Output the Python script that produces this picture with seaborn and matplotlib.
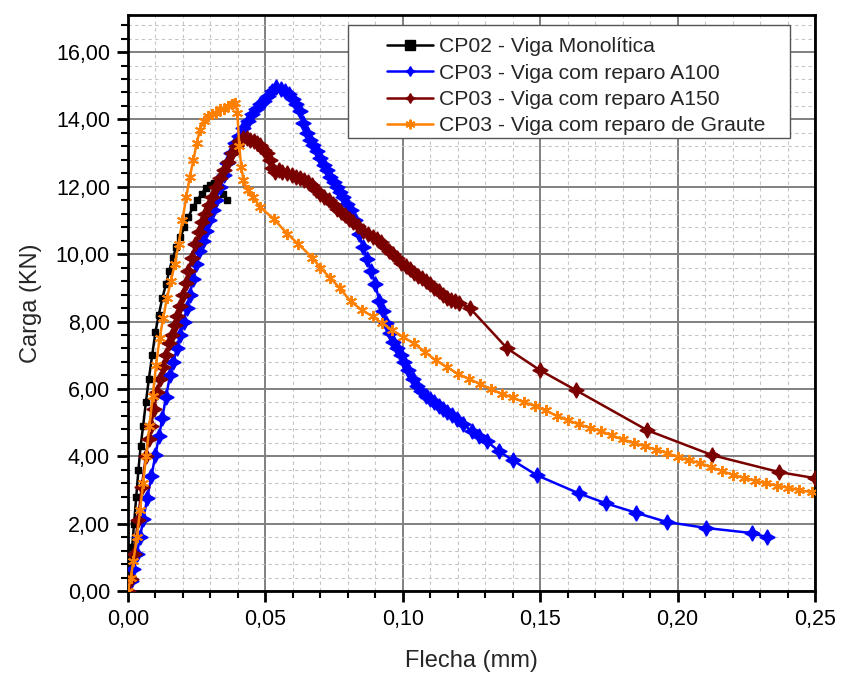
import matplotlib
matplotlib.use("Agg")
import matplotlib.pyplot as plt
import seaborn as sns
import pandas as pd
from matplotlib.patches import Rectangle
from matplotlib.ticker import MultipleLocator, FuncFormatter

# ---------------- data ----------------
labels = ["CP02 - Viga Monolítica",
          "CP03 - Viga com reparo A100",
          "CP03 - Viga com reparo A150",
          "CP03 - Viga com reparo de Graute"]

cp02_x = [0.0, 0.0008, 0.0015, 0.0022, 0.0030, 0.0038, 0.0046, 0.0055, 0.0065, 0.0076,
          0.0088, 0.0100, 0.0112, 0.0125, 0.0138, 0.0150, 0.0163, 0.0176, 0.0190, 0.0205,
          0.0220, 0.0236, 0.0252, 0.0268, 0.0283, 0.0298, 0.0312, 0.0328, 0.0345, 0.0360]
cp02_y = [0.0, 0.6, 1.3, 2.0, 2.8, 3.6, 4.3, 4.9, 5.6, 6.3,
          7.0, 7.7, 8.2, 8.7, 9.1, 9.5, 9.9, 10.2, 10.5, 10.8,
          11.1, 11.4, 11.6, 11.8, 11.95, 12.05, 12.1, 12.0, 11.8, 11.6]

a100_x = [0.0, 0.0010, 0.0020, 0.0032, 0.0044, 0.0056, 0.0070, 0.0085, 0.0100, 0.0113,
          0.0125, 0.0138, 0.0153, 0.0165, 0.0178, 0.0190, 0.0202, 0.0214, 0.0225, 0.0237,
          0.0249, 0.0260, 0.0272, 0.0284, 0.0296, 0.0308, 0.0320, 0.0335, 0.0348, 0.0362,
          0.0375, 0.0390, 0.0405, 0.0420, 0.0435, 0.0450, 0.0465, 0.0480, 0.0495, 0.0510,
          0.0525, 0.0540, 0.0555, 0.0570, 0.0585, 0.0600, 0.0612, 0.0625, 0.0637, 0.0650,
          0.0662, 0.0675, 0.0687, 0.0700, 0.0712, 0.0724, 0.0736, 0.0748, 0.0760, 0.0772,
          0.0784, 0.0796, 0.0810, 0.0825, 0.0840, 0.0855, 0.0870, 0.0885, 0.0900, 0.0915,
          0.0927, 0.0940, 0.0952, 0.0964, 0.0978, 0.0992, 0.1005, 0.1020, 0.1036, 0.1052,
          0.1068, 0.1085, 0.1100, 0.1115, 0.1130, 0.1145, 0.1160, 0.1178, 0.1196, 0.1220,
          0.1250, 0.1278, 0.1305, 0.1350, 0.1400, 0.1487, 0.1640, 0.1740, 0.1850, 0.1960,
          0.2105, 0.2270, 0.2324]
a100_y = [0.0, 0.3, 0.65, 1.1, 1.6, 2.15, 2.75, 3.4, 4.05, 4.6,
          5.15, 5.75, 6.4, 6.8, 7.2, 7.6, 8.0, 8.4, 8.8, 9.25,
          9.7, 10.1, 10.4, 10.7, 11.0, 11.3, 11.6, 12.0, 12.35, 12.7,
          13.0, 13.3, 13.5, 13.75, 13.95, 14.15, 14.3, 14.45, 14.55, 14.7,
          14.85, 14.95, 14.9, 14.85, 14.75, 14.6, 14.45, 14.25, 13.9, 13.6,
          13.4, 13.25, 13.05, 12.85, 12.65, 12.5, 12.3, 12.15, 12.0, 11.85,
          11.7, 11.5, 11.3, 11.0, 10.6, 10.2, 9.85, 9.5, 9.1, 8.6,
          8.3, 7.95, 7.65, 7.4, 7.2, 7.0, 6.8, 6.55, 6.3, 6.1,
          5.95, 5.8, 5.7, 5.6, 5.5, 5.4, 5.3, 5.22, 5.1, 4.95,
          4.75, 4.6, 4.45, 4.15, 3.88, 3.44, 2.9, 2.6, 2.32, 2.05,
          1.87, 1.72, 1.6]

a150_x = [0.0, 0.0010, 0.0022, 0.0036, 0.0050, 0.0065, 0.0075, 0.0084, 0.0095, 0.0106,
          0.0117, 0.0127, 0.0138, 0.0150, 0.0160, 0.0170, 0.0180, 0.0190, 0.0200, 0.0210,
          0.0220, 0.0232, 0.0245, 0.0258, 0.0270, 0.0282, 0.0294, 0.0306, 0.0320, 0.0335,
          0.0350, 0.0365, 0.0380, 0.0392, 0.0405, 0.0418, 0.0432, 0.0445, 0.0458, 0.0470,
          0.0482, 0.0494, 0.0505, 0.0515, 0.0525, 0.0535, 0.0548, 0.0562, 0.0578, 0.0595,
          0.0610, 0.0625, 0.0640, 0.0655, 0.0670, 0.0685, 0.0700, 0.0715, 0.0730, 0.0745,
          0.0760, 0.0775, 0.0790, 0.0805, 0.0820, 0.0837, 0.0855, 0.0872, 0.0890, 0.0905,
          0.0920, 0.0935, 0.0950, 0.0965, 0.0980, 0.0995, 0.1010, 0.1025, 0.1040, 0.1055,
          0.1070, 0.1085, 0.1100, 0.1115, 0.1130, 0.1145, 0.1160, 0.1175, 0.1190, 0.1205,
          0.1244, 0.1380, 0.1500, 0.1630, 0.1890, 0.2127, 0.2370, 0.2500]
a150_y = [0.0, 0.35, 1.1, 2.1, 3.1, 4.0, 4.5, 4.9, 5.4, 5.9,
          6.3, 6.65, 7.0, 7.35, 7.6, 7.9, 8.15, 8.45, 8.8, 9.15,
          9.5, 9.9, 10.3, 10.65, 10.95, 11.2, 11.45, 11.7, 12.0, 12.25,
          12.5, 12.75, 13.0, 13.2, 13.35, 13.45, 13.45, 13.4, 13.35, 13.3,
          13.25, 13.1, 13.0, 12.8, 12.55, 12.45, 12.5, 12.45, 12.4, 12.35,
          12.3, 12.27, 12.2, 12.15, 12.05, 11.9, 11.8, 11.7, 11.6, 11.5,
          11.35, 11.25, 11.15, 11.05, 10.95, 10.85, 10.7, 10.6, 10.5, 10.45,
          10.35, 10.2, 10.1, 10.0, 9.9, 9.75, 9.65, 9.55, 9.45, 9.35,
          9.3, 9.2, 9.1, 9.0, 8.9, 8.8, 8.7, 8.65, 8.6, 8.55,
          8.4, 7.2, 6.55, 5.96, 4.77, 4.03, 3.53, 3.35]

graute_x = [0.0, 0.0010, 0.0020, 0.0032, 0.0044, 0.0055, 0.0066, 0.0078, 0.0090, 0.0102,
            0.0115, 0.0128, 0.0142, 0.0156, 0.0170, 0.0184, 0.0198, 0.0212, 0.0225, 0.0238,
            0.0250, 0.0262, 0.0275, 0.0290, 0.0305, 0.0320, 0.0335, 0.0350, 0.0365, 0.0380,
            0.0390, 0.0398, 0.0405, 0.0412, 0.0420, 0.0435, 0.0455, 0.0480, 0.0530, 0.0580,
            0.0620, 0.0670, 0.0700, 0.0735, 0.0770, 0.0810, 0.0850, 0.0890, 0.0925, 0.0960,
            0.1000, 0.1040, 0.1080, 0.1120, 0.1160, 0.1200, 0.1240, 0.1280, 0.1320, 0.1360,
            0.1400, 0.1440, 0.1480, 0.1520, 0.1560, 0.1600, 0.1640, 0.1680, 0.1720, 0.1760,
            0.1800, 0.1840, 0.1880, 0.1920, 0.1960, 0.2000, 0.2040, 0.2080, 0.2120, 0.2160,
            0.2200, 0.2240, 0.2280, 0.2320, 0.2360, 0.2400, 0.2440, 0.2490]
graute_y = [0.0, 0.4, 0.9, 1.6, 2.4, 3.2, 4.0, 4.9, 5.8, 6.7,
            7.5, 8.1, 8.7, 9.2, 9.7, 10.3, 11.0, 11.7, 12.3, 12.8,
            13.3, 13.7, 13.95, 14.1, 14.15, 14.2, 14.3, 14.3, 14.4, 14.45,
            14.5, 14.2, 13.2, 12.6, 12.2, 11.9, 11.7, 11.4, 11.05, 10.6,
            10.3, 9.9, 9.6, 9.3, 9.0, 8.6, 8.35, 8.15, 7.95, 7.75,
            7.55, 7.35, 7.1, 6.85, 6.65, 6.45, 6.3, 6.15, 6.0, 5.85,
            5.75, 5.6, 5.5, 5.36, 5.2, 5.07, 4.95, 4.85, 4.75, 4.62,
            4.5, 4.4, 4.3, 4.2, 4.1, 3.98, 3.88, 3.8, 3.68, 3.57,
            3.45, 3.36, 3.28, 3.2, 3.13, 3.07, 3.0, 2.93]

x_ticks = [0.00, 0.05, 0.10, 0.15, 0.20, 0.25]
y_ticks = [0, 2, 4, 6, 8, 10, 12, 14, 16]

# ---------------- style ----------------
sns.set_style("ticks")
plt.rcParams["font.family"] = ["Liberation Sans", "DejaVu Sans"]

fig = plt.figure(figsize=(8.42, 6.75), dpi=100)
ax = fig.add_axes([128 / 842, 84 / 675, 687 / 842, 576 / 675])

series = [
    (cp02_x, cp02_y, labels[0], "#000000", "s", 4.5, 1.0),
    (a100_x, a100_y, labels[1], "#0000ff", (4, 1, 0), 11.0, 1.0),
    (a150_x, a150_y, labels[2], "#7a0000", (4, 1, 0), 11.0, 1.0),
    (graute_x, graute_y, labels[3], "#ff8000", (6, 2, 0), 8.0, 1.4),
]

for xs, ys, lab, col, mk, ms, mew in series:
    df = pd.DataFrame({"Flecha": xs, "Carga": ys})
    sns.lineplot(data=df, x="Flecha", y="Carga", ax=ax, sort=False, estimator=None,
                 color=col, lw=1.8, marker=mk, markersize=ms,
                 markeredgecolor=col, markerfacecolor=col, markeredgewidth=mew,
                 label=lab, zorder=3, clip_on=True)

ax.set_xlim(0, 0.25)
ax.set_ylim(0, 17.1)
ax.set_xticks(x_ticks)
ax.set_yticks(y_ticks)
ax.xaxis.set_minor_locator(MultipleLocator(0.01))
ax.yaxis.set_minor_locator(MultipleLocator(0.4))
fmt = FuncFormatter(lambda v, p: f"{v:.2f}".replace(".", ","))
ax.xaxis.set_major_formatter(fmt)
ax.yaxis.set_major_formatter(fmt)

ax.set_axisbelow(True)
ax.grid(which="major", color="#808080", lw=1.4, ls="-")
ax.grid(which="minor", color="#c4c4c4", lw=0.8, ls=(0, (3, 3)))

for s in ax.spines.values():
    s.set_visible(True)
    s.set_color("black")
    s.set_linewidth(2.0)

ax.tick_params(which="major", direction="out", length=8, width=2, labelsize=15.5,
               colors="black", pad=5)
ax.tick_params(which="minor", direction="out", length=5, width=1.5, colors="black")

ax.set_xlabel("Flecha (mm)", fontsize=17, labelpad=14)
ax.set_ylabel("Carga (KN)", fontsize=17, labelpad=10)

# legend box (wider on the left, as in the reference)
box = Rectangle((0.320, 0.786), 0.644, 0.197, transform=ax.transAxes,
                facecolor="white", edgecolor="#555555", lw=1.0, zorder=4.5)
ax.add_patch(box)
leg = ax.legend(loc="upper right", bbox_to_anchor=(0.942, 0.978), borderaxespad=0,
                fontsize=15.2, frameon=False, handlelength=2.2, handletextpad=0.3,
                labelspacing=0.35, borderpad=0.45)
leg.set_zorder(5)
for lh in leg.get_lines():
    lh.set_markersize(7)

fig.savefig("out.png", dpi=100)
